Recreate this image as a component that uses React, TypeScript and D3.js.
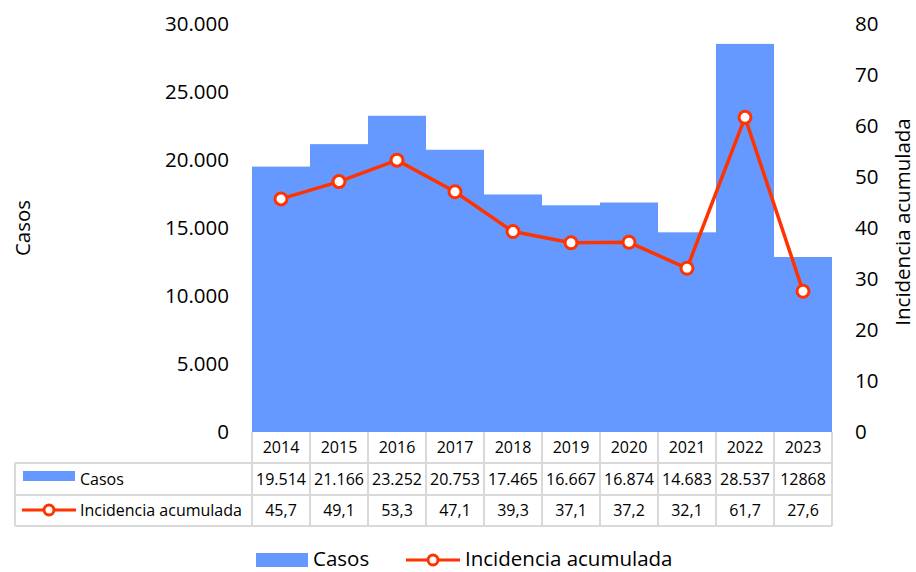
import React from "react";
import * as d3 from "d3";

const years = ["2014", "2015", "2016", "2017", "2018", "2019", "2020", "2021", "2022", "2023"];
const casos = [19514, 21166, 23252, 20753, 17465, 16667, 16874, 14683, 28537, 12868];
const casosLabels = ["19.514", "21.166", "23.252", "20.753", "17.465", "16.667", "16.874", "14.683", "28.537", "12868"];
const incidencia = [45.7, 49.1, 53.3, 47.1, 39.3, 37.1, 37.2, 32.1, 61.7, 27.6];
const incidenciaLabels = ["45,7", "49,1", "53,3", "47,1", "39,3", "37,1", "37,2", "32,1", "61,7", "27,6"];
const leftTicks = [0, 5000, 10000, 15000, 20000, 25000, 30000];
const rightTicks = [0, 10, 20, 30, 40, 50, 60, 70, 80];

const W = 916, H = 572;
const left = 252, right = 832, top = 24, bottom = 432;
const BAR = "#6699ff";
const LINE = "#ff3300";
const GRID = "#d9d9d9";
const FONT = "'Open Sans', 'Noto Sans', sans-serif";
const AX = 20.5;
const TB = 16;

export default function App() {
  const x = d3.scaleBand<string>().domain(years).range([left, right]).padding(0);
  const yL = d3.scaleLinear().domain([0, 30000]).range([bottom, top]);
  const yR = d3.scaleLinear().domain([0, 80]).range([bottom, top]);
  const fmtL = (v: number) => (v === 0 ? "0" : d3.format(",")(v).replace(/,/g, "."));
  const line = d3
    .line<number>()
    .x((_, i) => (x(years[i]) as number) + x.bandwidth() / 2)
    .y((d) => yR(d));

  const rowY = [432, 463, 495, 526];
  const tableLeft = 15;

  return (
    <svg width={W} height={H} style={{ position: "absolute", left: 0, top: 0, background: "#fff" }} fontFamily={FONT}>
      {/* bars */}
      {casos.map((v, i) => (
        <rect key={i} x={x(years[i]) as number} y={yL(v)} width={x.bandwidth()} height={bottom - yL(v)} fill={BAR} />
      ))}
      {/* left axis labels */}
      {leftTicks.map((t) => (
        <text key={t} x={229} y={yL(t)} dy="0.35em" textAnchor="end" fontSize={AX} fill="#000">
          {fmtL(t)}
        </text>
      ))}
      {/* right axis labels */}
      {rightTicks.map((t) => (
        <text key={t} x={855} y={yR(t)} dy="0.35em" textAnchor="start" fontSize={AX} fill="#000">
          {t}
        </text>
      ))}
      <text transform={`translate(30,228) rotate(-90)`} textAnchor="middle" fontSize={AX}>
        Casos
      </text>
      <text transform={`translate(910,222) rotate(-90)`} textAnchor="middle" fontSize={AX}>
        Incidencia acumulada
      </text>
      {/* line */}
      <path d={line(incidencia) || ""} fill="none" stroke={LINE} strokeWidth={3.5} />
      {incidencia.map((v, i) => (
        <circle key={i} cx={(x(years[i]) as number) + x.bandwidth() / 2} cy={yR(v)} r={6} fill="#fff" stroke={LINE} strokeWidth={3} />
      ))}
      {/* table grid */}
      <g stroke={GRID} strokeWidth={2}>
        <line x1={tableLeft} x2={right} y1={rowY[1]} y2={rowY[1]} />
        <line x1={tableLeft} x2={right} y1={rowY[2]} y2={rowY[2]} />
        <line x1={tableLeft} x2={right} y1={rowY[3]} y2={rowY[3]} />
        <line x1={tableLeft} x2={tableLeft} y1={rowY[1]} y2={rowY[3]} />
        {years.map((yv) => (
          <line key={yv} x1={x(yv) as number} x2={x(yv) as number} y1={rowY[0]} y2={rowY[3]} />
        ))}
        <line x1={right} x2={right} y1={rowY[0]} y2={rowY[3]} />
      </g>
      {/* table text */}
      {years.map((yv, i) => {
        const cx = (x(yv) as number) + x.bandwidth() / 2;
        return (
          <g key={yv} fontSize={TB} textAnchor="middle" fill="#000">
            <text x={cx} y={(rowY[0] + rowY[1]) / 2} dy="0.35em">{yv}</text>
            <text x={cx} y={(rowY[1] + rowY[2]) / 2} dy="0.35em">{casosLabels[i]}</text>
            <text x={cx} y={(rowY[2] + rowY[3]) / 2} dy="0.35em">{incidenciaLabels[i]}</text>
          </g>
        );
      })}
      {/* table row headers */}
      <rect x={23} y={471} width={52} height={10} fill={BAR} />
      <text x={80} y={(rowY[1] + rowY[2]) / 2} dy="0.35em" fontSize={TB}>Casos</text>
      <line x1={22} x2={76} y1={510} y2={510} stroke={LINE} strokeWidth={3} />
      <circle cx={49} cy={510} r={5} fill="#fff" stroke={LINE} strokeWidth={3} />
      <text x={80} y={(rowY[2] + rowY[3]) / 2} dy="0.35em" fontSize={TB}>Incidencia acumulada</text>
      {/* legend */}
      <rect x={256} y={553} width={52} height={14} fill={BAR} />
      <text x={313} y={566} fontSize={AX}>Casos</text>
      <line x1={406} x2={460} y1={560} y2={560} stroke={LINE} strokeWidth={3} />
      <circle cx={433} cy={560} r={5} fill="#fff" stroke={LINE} strokeWidth={3} />
      <text x={465} y={566} fontSize={AX}>Incidencia acumulada</text>
    </svg>
  );
}
